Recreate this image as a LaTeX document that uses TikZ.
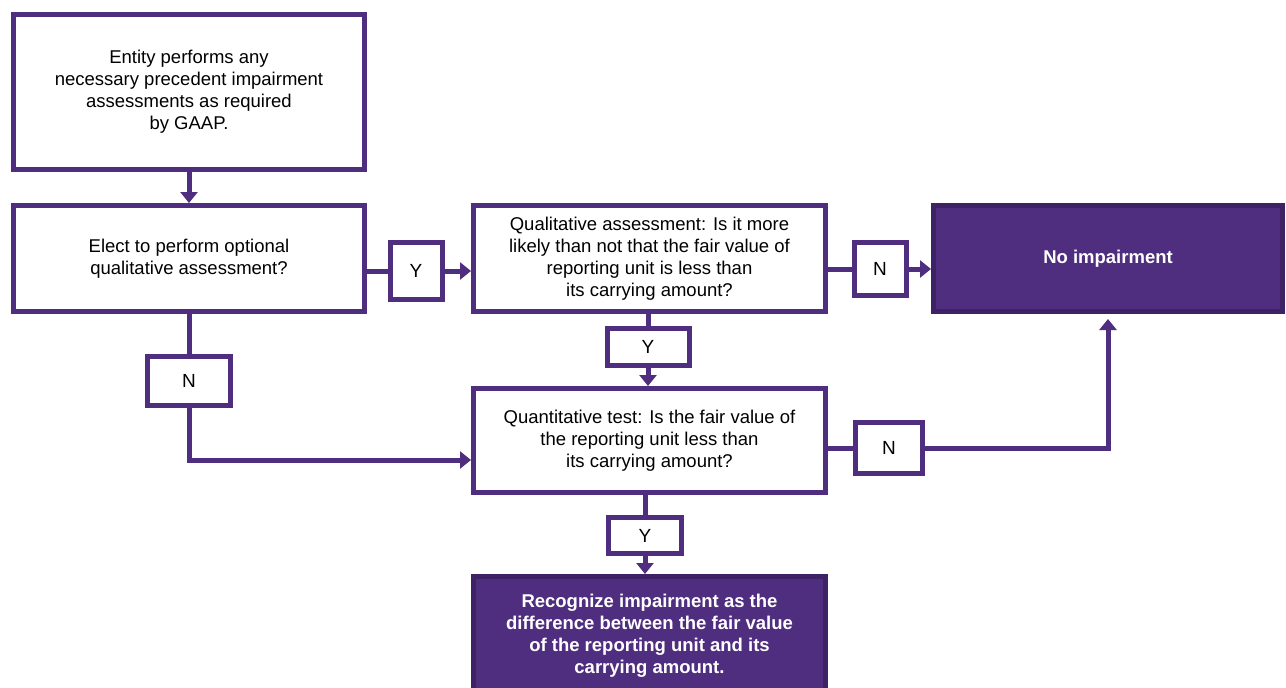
\documentclass[tikz,border=0pt]{standalone}
\usepackage{fontspec}
\setmainfont{Liberation Sans}
\usepackage{xcolor}
\usetikzlibrary{arrows.meta}
\definecolor{plum}{HTML}{4F2D7F}
\definecolor{plumdark}{HTML}{3E2266}
\tikzset{
  box/.style={draw=plum, line width=5pt, fill=white, align=center, font=\fontsize{18.5}{22}\selectfont, inner sep=0pt},
  tag/.style={draw=plum, line width=5pt, fill=white, font=\fontsize{19}{22}\selectfont, inner sep=0pt},
  goal/.style={draw=plumdark, line width=5pt, fill=plum, text=white, align=center, font=\fontsize{18.5}{22}\selectfont\bfseries, inner sep=0pt},
  link/.style={draw=plum, line width=5pt},
  arr/.style={draw=plum, line width=5pt, -{Triangle[length=11pt,width=17pt]}},
}
\begin{document}
\begin{tikzpicture}[x=1pt,y=-1pt]
  \useasboundingbox (0,0) rectangle (1286,688);
  % process boxes
  \node[box, minimum width=351pt, minimum height=155pt] (b1) at (189,92)
    {Entity performs any\\necessary precedent impairment\\assessments as required\\by GAAP.};
  \node[box, minimum width=351pt, minimum height=106pt] (b2) at (189,258.5)
    {Elect to perform optional\\qualitative assessment?};
  \node[box, minimum width=352pt, minimum height=106pt] (b3) at (649.5,258.5)
    {Qualitative assessment: Is it more\\likely than not that the fair value of\\reporting unit is less than\\its carrying amount?};
  \node[box, minimum width=352pt, minimum height=104pt] (b4) at (649.5,440.5)
    {Quantitative test: Is the fair value of\\the reporting unit less than\\its carrying amount?};
  % outcomes
  \node[goal, minimum width=349pt, minimum height=106pt] (none) at (1108,258.5) {No impairment};
  \node[goal, minimum width=352pt, minimum height=119pt] (rec) at (649.5,636)
    {Recognize impairment as the\\difference between the fair value\\of the reporting unit and its\\carrying amount.};
  % answer tags
  \node[tag, minimum width=52pt, minimum height=57pt] (y1) at (416,271) {Y};
  \node[tag, minimum width=52pt, minimum height=53pt] (n1) at (880,269) {N};
  \node[tag, minimum width=82pt, minimum height=37pt] (y2) at (648,347) {Y};
  \node[tag, minimum width=83pt, minimum height=49pt] (n2) at (189,381) {N};
  \node[tag, minimum width=67pt, minimum height=51pt] (n3) at (889,448) {N};
  \node[tag, minimum width=73pt, minimum height=36pt] (y3) at (645,535.5) {Y};
  % connectors
  \draw[arr] (b1.south) -- (b2.north);
  \draw[link] (b2.east |- y1) -- (y1.west);
  \draw[arr] (y1.east) -- (b3.west |- y1);
  \draw[link] (b3.east |- n1) -- (n1.west);
  \draw[arr] (n1.east) -- (none.west |- n1);
  \draw[link] (b3.south -| y2) -- (y2.north);
  \draw[arr] (y2.south) -- (b4.north -| y2);
  \draw[link] (b2.south) -- (n2.north);
  \draw[arr] (n2.south) |- (b4.west |- 0,460);
  \draw[link] (b4.east |- n3) -- (n3.west);
  \draw[arr, shorten >=5pt] (n3.east) -| (none.south);
  \draw[link] (b4.south -| y3) -- (y3.north);
  \draw[arr] (y3.south) -- (rec.north -| y3);
\end{tikzpicture}
\end{document}
